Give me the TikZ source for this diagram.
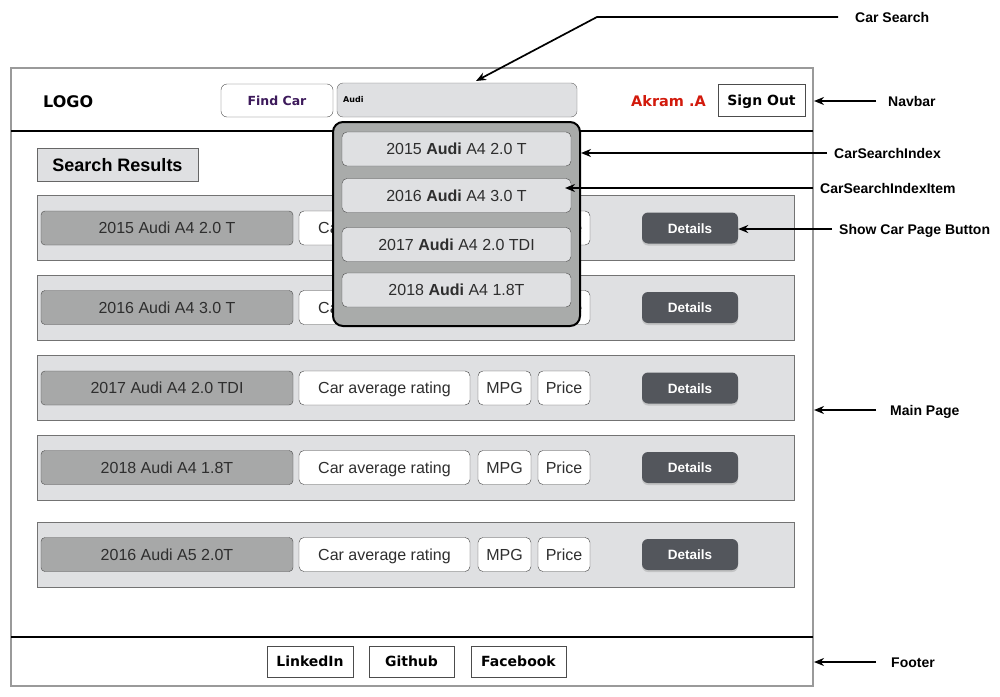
\documentclass[tikz,border=0pt]{standalone}
\usepackage{fontspec}
\setmainfont{Liberation Sans}
\newfontfamily\verd{DejaVu Sans}
\usetikzlibrary{arrows.meta,shadows}
\definecolor{framegray}{HTML}{9A9A9A}
\definecolor{panelgray}{HTML}{DFE0E2}
\definecolor{namegray}{HTML}{A7A8A8}
\definecolor{dropgray}{HTML}{A9ABAA}
\definecolor{btngray}{HTML}{53565C}
\definecolor{findpurple}{HTML}{3D1A5B}
\definecolor{akramred}{HTML}{D21A0C}
\definecolor{txtgray}{HTML}{2E2E2E}

\begin{document}
\begin{tikzpicture}[x=1pt, y=-1pt,
  rowbox/.style={draw=black!55, fill=panelgray, line width=1, minimum width=757, minimum height=65},
  namebox/.style={draw=black!70, fill=namegray, rounded corners=4, minimum width=252, minimum height=34, text height=11.5pt, text depth=0pt, text=txtgray, font=\fontsize{16}{18}\selectfont},
  infobox/.style={draw=black!75, fill=white, rounded corners=5, inner sep=0, minimum height=34, text height=11.5pt, text depth=0pt, text=txtgray, font=\fontsize{16}{18}\selectfont},
  detbtn/.style={fill=btngray, rounded corners=6, minimum width=96, minimum height=31, text height=10pt, text depth=0pt, text=white, font=\bfseries\fontsize{13.5}{15}\selectfont, drop shadow={opacity=0.3, shadow xshift=0pt, shadow yshift=-2pt}},
  itembox/.style={draw=black!70, fill=panelgray, rounded corners=5, minimum width=229, minimum height=34, text height=11.5pt, text depth=0pt, text=txtgray, font=\fontsize{16}{18}\selectfont},
  navbtn/.style={draw=black!70, fill=white, inner sep=0, text height=10.2pt, text depth=0pt, font=\verd\bfseries\fontsize{14}{16}\selectfont},
  lbl/.style={anchor=west, inner sep=0, text height=10pt, text depth=0pt, font=\bfseries\fontsize{14}{16}\selectfont},
  arr/.style={-{Stealth[length=10pt,width=8pt]}, line width=1.7, shorten <=7pt}]
  \useasboundingbox (0,0) rectangle (1000,696);

  % Page frame
  \node[draw=framegray, line width=2, minimum width=802, minimum height=618] (page) at (412,377) {};
  \draw[line width=2] (11,131) -- (813,131);
  \draw[line width=2.4] (11,637) -- (813,637);

  % Navbar
  \node[anchor=west, inner sep=0, text height=11.7pt, text depth=0pt, font=\verd\bfseries\fontsize{16}{18}\selectfont] (logo) at (43,102) {LOGO};
  \node[navbtn, rounded corners=6, minimum width=112, minimum height=33, text=findpurple, text height=9.2pt, font=\verd\bfseries\fontsize{12.5}{14}\selectfont] (find) at (277,100.5) {Find Car};
  \node[draw=black!60, fill=panelgray, rounded corners=6, minimum width=240, minimum height=34] (search) at (457,100) {};
  \node[anchor=west, inner sep=0, text height=5.8pt, text depth=0pt, font=\verd\bfseries\fontsize{8}{9}\selectfont] (query) at (343,100) {Audi};
  \node[inner sep=0, text height=10.5pt, text depth=0pt, text=akramred, font=\verd\bfseries\fontsize{14.5}{16}\selectfont] (user) at (668.5,101) {Akram .A};
  \node[navbtn, minimum width=87, minimum height=32] (signout) at (761.5,100) {Sign Out};

  % Results
  \node[draw=black!60, fill=panelgray, minimum width=161, minimum height=33, text height=13pt, text depth=0pt, font=\bfseries\fontsize{18}{20}\selectfont] (results) at (117.5,164.5) {Search Results};

  % Row 1
  \node[rowbox] (row1) at (415.5,227.5) {};
  \node[namebox] (car1) at (167,228) {2015 Audi A4 2.0 T};
  \node[infobox, minimum width=171] (rate1) at (384.5,228) {Car average rating};
  \node[infobox, minimum width=53] (mpg1) at (504.5,228) {MPG};
  \node[infobox, minimum width=52] (price1) at (564,228) {Price};
  \node[detbtn] (det1) at (690,228) {Details};

  % Row 2
  \node[rowbox] (row2) at (415.5,307.5) {};
  \node[namebox] (car2) at (167,307.5) {2016 Audi A4 3.0 T};
  \node[infobox, minimum width=171] (rate2) at (384.5,307.5) {Car average rating};
  \node[infobox, minimum width=53] (mpg2) at (504.5,307.5) {MPG};
  \node[infobox, minimum width=52] (price2) at (564,307.5) {Price};
  \node[detbtn] (det2) at (690,307.5) {Details};

  % Row 3
  \node[rowbox] (row3) at (415.5,387.5) {};
  \node[namebox] (car3) at (167,388) {2017 Audi A4 2.0 TDI};
  \node[infobox, minimum width=171] (rate3) at (384.5,388) {Car average rating};
  \node[infobox, minimum width=53] (mpg3) at (504.5,388) {MPG};
  \node[infobox, minimum width=52] (price3) at (564,388) {Price};
  \node[detbtn] (det3) at (690,388) {Details};

  % Row 4
  \node[rowbox] (row4) at (415.5,467.5) {};
  \node[namebox] (car4) at (167,467.5) {2018 Audi A4 1.8T};
  \node[infobox, minimum width=171] (rate4) at (384.5,467.5) {Car average rating};
  \node[infobox, minimum width=53] (mpg4) at (504.5,467.5) {MPG};
  \node[infobox, minimum width=52] (price4) at (564,467.5) {Price};
  \node[detbtn] (det4) at (690,467.5) {Details};

  % Row 5
  \node[rowbox] (row5) at (415.5,554.5) {};
  \node[namebox] (car5) at (167,554.5) {2016 Audi A5 2.0T};
  \node[infobox, minimum width=171] (rate5) at (384.5,554.5) {Car average rating};
  \node[infobox, minimum width=53] (mpg5) at (504.5,554.5) {MPG};
  \node[infobox, minimum width=52] (price5) at (564,554.5) {Price};
  \node[detbtn] (det5) at (690,554.5) {Details};

  % Dropdown
  \node[draw=black, line width=2, fill=dropgray, rounded corners=10, minimum width=247, minimum height=204] (drop) at (456.5,224) {};
  \node[itembox] (item1) at (456.5,149) {2015 \textbf{Audi} A4 2.0 T};
  \node[itembox] (item2) at (456.5,195.5) {2016 \textbf{Audi} A4 3.0 T};
  \node[itembox] (item3) at (456.5,244.5) {2017 \textbf{Audi} A4 2.0 TDI};
  \node[itembox] (item4) at (456.5,290) {2018 \textbf{Audi} A4 1.8T};

  % Footer
  \node[navbtn, minimum width=86, minimum height=31] (linkedin) at (310,661.5) {LinkedIn};
  \node[navbtn, minimum width=85, minimum height=31] (github) at (411.5,661.5) {Github};
  \node[navbtn, minimum width=95, minimum height=31] (facebook) at (518.5,661.5) {Facebook};

  % Labels
  \node[lbl] (lsearch) at (855,17) {Car Search};
  \node[lbl] (lnav) at (888,101) {Navbar};
  \node[lbl] (lindex) at (834,153) {CarSearchIndex};
  \node[lbl] (litem) at (820,188) {CarSearchIndexItem};
  \node[lbl] (lshow) at (839,229) {Show Car Page Button};
  \node[lbl] (lmain) at (890,410) {Main Page};
  \node[lbl] (lfoot) at (891,662) {Footer};

  \coordinate (bend) at (597,17);
  \coordinate (searchtip) at (476,81);
  \coordinate (itemtip) at (565,188);

  \draw[arr, shorten <=17pt] (lsearch.west) -- (bend) -- (searchtip);
  \draw[arr, shorten <=12pt] (lnav.west) -- (lnav.west -| page.east);
  \draw[arr] (lindex.west) -- (lindex.west -| drop.east);
  \draw[arr] (litem.west) -- (itemtip);
  \draw[arr] (lshow.west) -- (lshow.west -| det1.east);
  \draw[arr, shorten <=14pt] (lmain.west) -- (lmain.west -| page.east);
  \draw[arr, shorten <=15pt] (lfoot.west) -- (lfoot.west -| page.east);
\end{tikzpicture}
\end{document}
